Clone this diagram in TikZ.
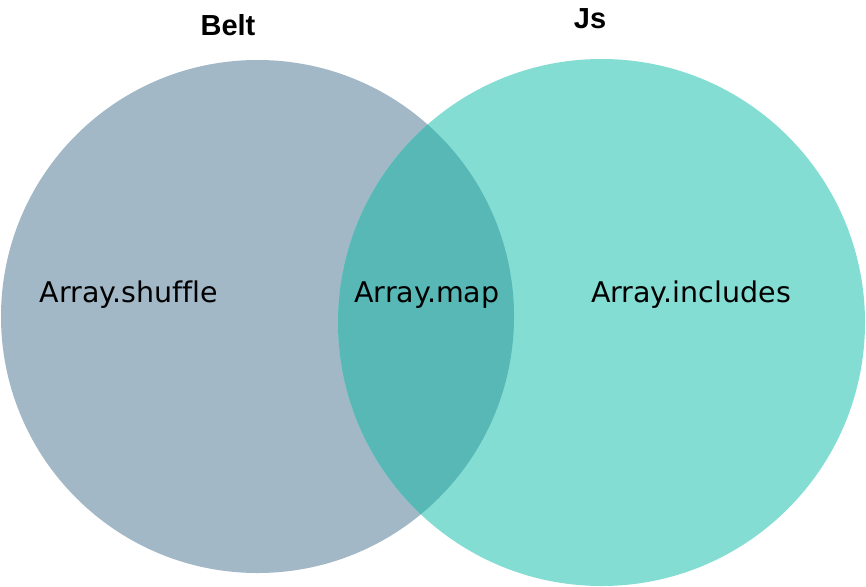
\documentclass[tikz,border=0pt]{standalone}
\usepackage{fontspec}
\setmainfont{DejaVu Sans}[Ligatures=NoCommon]
\newfontfamily\titlefont{Liberation Sans}
\definecolor{beltcol}{HTML}{A2B8C7}
\definecolor{jscol}{HTML}{84DDD3}
\definecolor{bothcol}{HTML}{57B8B6}
\tikzset{
  setlabel/.style={inner sep=0pt, anchor=base, font=\fontsize{28.5}{32}\selectfont, text=black},
  titlelabel/.style={inner sep=0pt, anchor=base, font=\titlefont\fontsize{29}{32}\selectfont\bfseries, text=black},
  setcircle/.style={circle, inner sep=0pt, draw=none}
}
\begin{document}
\begin{tikzpicture}[x=1pt,y=-1pt]
\useasboundingbox (0,0) rectangle (866,586);
\node[setcircle, fill=beltcol, minimum size=513pt] (beltset) at (257.5,316.5) {};
\node[setcircle, fill=jscol, minimum size=527pt] (jsset) at (601.5,322.5) {};
\begin{scope}
  \clip (257.5,316.5) circle (256.5pt);
  \fill[bothcol] (601.5,322.5) circle (263.5pt);
\end{scope}
\node[titlelabel] (belt) at (228,36) {Belt};
\node[titlelabel] (js) at (590,29) {Js};
\node[setlabel] (shuffle) at (129,302) {Array.shuffle};
\node[setlabel] (map) at (427,302) {Array.map};
\node[setlabel] (includes) at (691,302) {Array.includes};
\end{tikzpicture}
\end{document}
